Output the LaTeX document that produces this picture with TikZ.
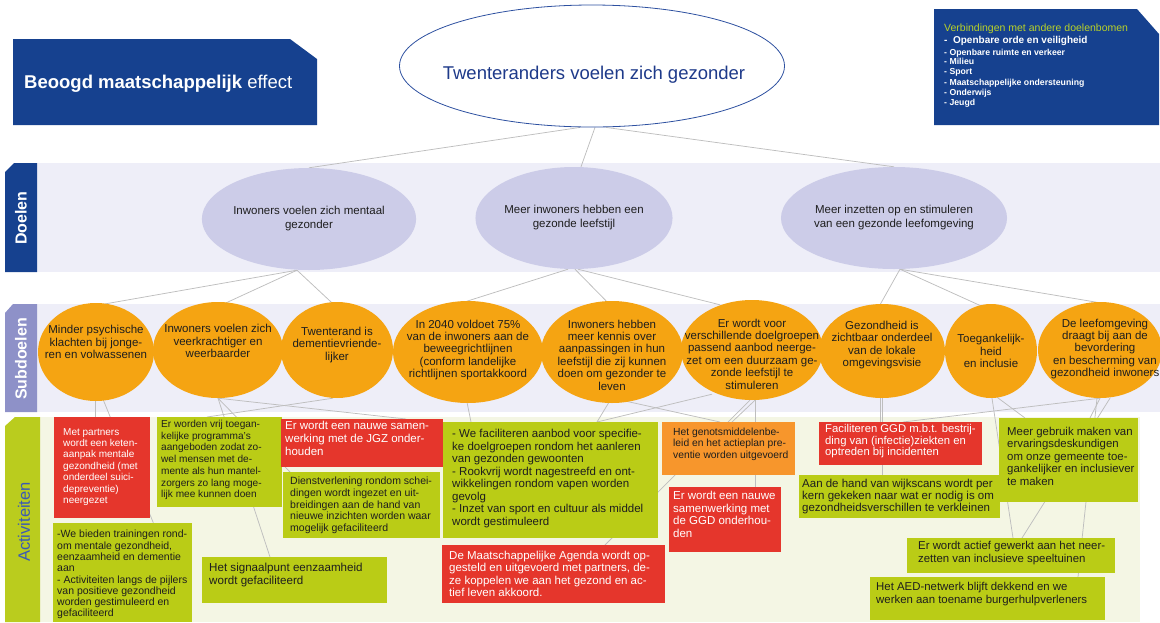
\documentclass[tikz,border=0pt]{standalone}
\usepackage{fontspec}
\setmainfont{Liberation Sans}
\usetikzlibrary{shapes.geometric,calc}
\pgfdeclarelayer{back}
\pgfdeclarelayer{lines}
\pgfsetlayers{back,lines,main}
\definecolor{dblue}{RGB}{22,65,143}
\definecolor{bandlav}{RGB}{238,238,248}
\definecolor{goalfill}{RGB}{204,204,232}
\definecolor{subtab}{RGB}{142,145,200}
\definecolor{suborange}{RGB}{245,164,18}
\definecolor{acttab}{RGB}{186,204,30}
\definecolor{actband}{RGB}{244,246,228}
\definecolor{actgreen}{RGB}{186,204,22}
\definecolor{actred}{RGB}{229,54,44}
\definecolor{actorange}{RGB}{247,150,44}
\definecolor{actblue}{RGB}{58,90,180}
\definecolor{linegray}{RGB}{190,190,190}
\definecolor{titleblue}{RGB}{30,58,138}
\definecolor{ellblue}{RGB}{45,80,160}
\definecolor{vgreen}{RGB}{185,210,40}
\definecolor{txtdark}{RGB}{30,30,30}
\newcommand{\fs}[2]{\fontsize{#1}{#2}\selectfont}
\begin{document}
\begin{tikzpicture}[x=1pt,y=-1pt,
  conn/.style={draw=linegray,line width=0.75pt},
  goalel/.style={ellipse,fill=goalfill,draw=none,inner sep=0pt,align=center,text=txtdark,font=\fs{11.5}{14}},
  subel/.style={ellipse,fill=suborange,draw=none,inner sep=0pt},
  subtx/.style={inner sep=0pt,align=center,text=txtdark,font=\fs{11.5}{12.4}},
  abox/.style={rectangle,draw=none,inner sep=0pt,anchor=north west},
  atx/.style={inner sep=0pt,anchor=north west,align=left},
  tabtx/.style={rotate=90,inner sep=0pt},
  vitem/.style={anchor=base west,inner sep=0pt,text=white,font=\fs{8.7}{10}\bfseries}
]
\useasboundingbox (0,0) rectangle (1160,622);

\begin{pgfonlayer}{back}
% bands and tabs
\fill[bandlav] (37,163) rectangle (1160,272);
\fill[dblue] (5,172) -- (14,163) -- (37,163) -- (37,272) -- (5,272) -- cycle;
\fill[bandlav] (37,304) rectangle (1160,412);
\fill[subtab] (5,313) -- (13,304) -- (37,304) -- (37,412) -- (5,412) -- cycle;
\fill[actband] (40,417) rectangle (1140,622);
\fill[acttab] (5,426) -- (15,417) -- (40,417) -- (40,622) -- (5,622) -- cycle;
% top boxes
\fill[dblue] (13,39) -- (290,39) -- (317,59) -- (317,125) -- (13,125) -- cycle;
\fill[dblue] (934,9) -- (1137,9) -- (1159,34) -- (1159,125) -- (934,125) -- cycle;
\end{pgfonlayer}

% band labels
\node[tabtx,text=white,font=\fs{16}{18}\bfseries] (tdo) at (21,218) {Doelen};
\node[tabtx,text=white,font=\fs{16}{18}\bfseries] (tsu) at (21,359) {Subdoelen};
\node[tabtx,text=actblue,font=\fs{16.5}{18}] (tac) at (24,522) {Activiteiten};

% top texts
\node[anchor=base west,inner sep=0pt,text=white,font=\fs{18.5}{22}] (beo) at (24,88) {\bfseries Beoogd maatschappelijk \mdseries effect};
\node[anchor=base west,inner sep=0pt,text=vgreen,font=\fs{10.5}{12}] (vt) at (944,31) {Verbindingen met andere doelenbomen};
\node[vitem,font=\fs{10}{12}\bfseries] (v1) at (944,43.5) {-\ \ Openbare orde en veiligheid};
\node[vitem] (v2) at (944,55) {-\ Openbare ruimte en verkeer};
\node[vitem] (v3) at (944,64.5) {-\ Milieu};
\node[vitem] (v4) at (944,74) {-\ Sport};
\node[vitem] (v5) at (944,85) {-\ Maatschappelijke ondersteuning};
\node[vitem] (v6) at (944,95.5) {-\ Onderwijs};
\node[vitem] (v7) at (944,105) {-\ Jeugd};

% main ellipse
\node[ellipse,draw=ellblue,line width=0.8pt,fill=white,minimum width=385pt,minimum height=122pt,inner sep=0pt] (m) at (592,66) {};
\node[anchor=base,inner sep=0pt,text=titleblue,font=\fs{18.5}{22}] (mt) at (594,79) {Twenteranders voelen zich gezonder};

% goals
\node[goalel,minimum width=178pt,minimum height=102pt] (d1) at (309,219) {Inwoners voelen zich mentaal\\gezonder};
\node[goalel,minimum width=178pt,minimum height=102pt] (d2) at (574,218) {Meer inwoners hebben een\\gezonde leefstijl};
\node[goalel,minimum width=178pt,minimum height=102pt] (d3) at (894,218) {Meer inzetten op en stimuleren\\van een gezonde leefomgeving};

% sub goals
\node[subel,minimum width=116pt,minimum height=98pt] (s1) at (96,352) {};
\node[subel,minimum width=130pt,minimum height=96pt] (s2) at (218,350) {};
\node[subel,minimum width=112pt,minimum height=96pt] (s3) at (337,350) {};
\node[subel,minimum width=150pt,minimum height=102pt] (s4) at (468,352) {};
\node[subel,minimum width=142pt,minimum height=102pt] (s5) at (612,352) {};
\node[subel,minimum width=142pt,minimum height=100pt] (s6) at (752,350) {};
\node[subel,minimum width=126pt,minimum height=94pt] (s7) at (882,351) {};
\node[subel,minimum width=92pt,minimum height=94pt] (s8) at (991,351) {};
\node[subel,minimum width=124pt,minimum height=96pt] (s9) at (1100,350) {};

\node[subtx] (st1) at (96,342) {Minder psychische\\klachten bij jonge-\\ren en volwassenen};
\node[subtx] (st2) at (218,341) {Inwoners voelen zich\\veerkrachtiger en\\weerbaarder};
\node[subtx] (st3) at (337,345) {Twenterand is\\dementievriende-\\lijker};
\node[subtx] (st4) at (468,350) {In 2040 voldoet 75\%\\van de inwoners aan de\\beweegrichtlijnen\\(conform landelijke\\richtlijnen sportakkoord};
\node[subtx] (st5) at (612,355) {Inwoners hebben\\meer kennis over\\aanpassingen in hun\\leefstijl die zij kunnen\\doen om gezonder te\\leven};
\node[subtx] (st6) at (752,354) {Er wordt voor\\verschillende doelgroepen\\passend aanbod neerge-\\zet om een duurzaam ge-\\zonde leefstijl te\\stimuleren};
\node[subtx] (st7) at (882,345) {Gezondheid is\\zichtbaar onderdeel\\van de lokale\\omgevingsvisie};
\node[subtx] (st8) at (991,351) {Toegankelijk-\\heid\\en inclusie};
\node[subtx] (st9) at (1105,349) {De leefomgeving\\draagt bij aan de\\bevordering\\en bescherming van\\gezondheid inwoners};

% activity boxes
\node[abox,fill=actred,minimum width=96pt,minimum height=101pt] (a1) at (54,417) {};
\node[abox,fill=actgreen,minimum width=125pt,minimum height=90pt] (a2) at (157,417) {};
\node[abox,fill=actred,minimum width=162pt,minimum height=48pt] (a3) at (281,419) {};
\node[abox,fill=actgreen,minimum width=157pt,minimum height=66pt] (a4) at (283,472) {};
\node[abox,fill=actgreen,minimum width=139pt,minimum height=99pt] (a5) at (53,523) {};
\node[abox,fill=actgreen,minimum width=185pt,minimum height=46pt] (a6) at (202,557) {};
\node[abox,fill=actgreen,minimum width=215pt,minimum height=116pt] (a7) at (443,422) {};
\node[abox,fill=actred,minimum width=223pt,minimum height=58pt] (a8) at (442,545) {};
\node[abox,fill=actorange,minimum width=133pt,minimum height=53pt] (a9) at (662,422) {};
\node[abox,fill=actred,minimum width=112pt,minimum height=65pt] (a10) at (669,487) {};
\node[abox,fill=actred,minimum width=163pt,minimum height=43pt] (a11) at (819,422) {};
\node[abox,fill=actgreen,minimum width=201pt,minimum height=43pt] (a12) at (799,475) {};
\node[abox,fill=actgreen,minimum width=139pt,minimum height=84pt] (a13) at (999,418) {};
\node[abox,fill=actgreen,minimum width=208pt,minimum height=35pt] (a14) at (907,538) {};
\node[abox,fill=actgreen,minimum width=235pt,minimum height=43pt] (a15) at (870,577) {};

% activity texts
\node[atx,text=white,font=\fs{10}{11.4}] (at1) at (63,428) {Met partners\\wordt een keten-\\aanpak mentale\\gezondheid (met\\onderdeel suici-\\depreventie)\\neergezet};
\node[atx,text=txtdark,font=\fs{10.1}{11.7}] (at2) at (161,420) {Er worden vrij toegan-\\kelijke programma's\\aangeboden zodat zo-\\wel mensen met de-\\mente als hun mantel-\\zorgers zo lang moge-\\lijk mee kunnen doen};
\node[atx,text=white,font=\fs{11.5}{13}] (at3) at (285,421) {Er wordt een nauwe samen-\\werking met de JGZ onder-\\houden};
\node[atx,text=txtdark,font=\fs{10.5}{11.7}] (at4) at (290,477) {Dienstverlening rondom schei-\\dingen wordt ingezet en uit-\\breidingen aan de hand van\\nieuwe inzichten worden waar\\mogelijk gefaciliteerd};
\node[atx,text=txtdark,font=\fs{10.5}{11.3}] (at5) at (57,530) {-We bieden trainingen rond-\\om mentale gezondheid,\\eenzaamheid en dementie\\aan\\- Activiteiten langs de pijlers\\van positieve gezondheid\\worden gestimuleerd en\\gefaciliteerd};
\node[atx,text=txtdark,font=\fs{11.6}{12.5}] (at6) at (209,563) {Het signaalpunt eenzaamheid\\wordt gefaciliteerd};
\node[atx,text=txtdark,font=\fs{11.5}{12.5}] (at7) at (452,429) {- We faciliteren aanbod voor specifie-\\ke doelgroepen rondom het aanleren\\van gezonden gewoonten\\- Rookvrij wordt nagestreefd en ont-\\wikkelingen rondom vapen worden\\gevolg\\- Inzet van sport en cultuur als middel\\wordt gestimuleerd};
\node[atx,text=white,font=\fs{11.5}{12.3}] (at8) at (449,551) {De Maatschappelijke Agenda wordt op-\\gesteld en uitgevoerd met partners, de-\\ze koppelen we aan het gezond en ac-\\tief leven akkoord.};
\node[atx,text=txtdark,font=\fs{10.3}{11.3}] (at9) at (673,428) {Het genotsmiddelenbe-\\leid en het actieplan pre-\\ventie worden uitgevoerd};
\node[atx,text=white,font=\fs{11.5}{12.6}] (at10) at (673,491) {Er wordt een nauwe\\samenwerking met\\de GGD onderhou-\\den};
\node[atx,text=white,font=\fs{11.3}{11.7}] (at11) at (825,424) {Faciliteren GGD m.b.t. bestrij-\\ding van (infectie)ziekten en\\optreden bij incidenten};
\node[atx,text=txtdark,font=\fs{11.5}{12}] (at12) at (802,479) {Aan de hand van wijkscans wordt per\\kern gekeken naar wat er nodig is om\\gezondheidsverschillen te verkleinen};
\node[atx,text=txtdark,font=\fs{11.4}{12.5}] (at13) at (1007,427) {Meer gebruik maken van\\ervaringsdeskundigen\\om onze gemeente toe-\\gankelijker en inclusiever\\te maken};
\node[atx,text=txtdark,font=\fs{11.4}{12.8}] (at14) at (918,541) {Er wordt actief gewerkt aan het neer-\\zetten van inclusieve speeltuinen};
\node[atx,text=txtdark,font=\fs{11.4}{13}] (at15) at (876,582) {Het AED-netwerk blijft dekkend en we\\werken aan toename burgerhulpverleners};

% connectors
\begin{pgfonlayer}{lines}
\draw[conn] ($(m.south)+(-12,0)$) -- (d1.north);
\draw[conn] ($(m.south)+(3,0)$) -- ($(d2.north)+(7,0)$);
\draw[conn] ($(m.south)+(14,0)$) -- (d3.north);

\draw[conn] ($(d1.south)+(-12,0)$) -- ($(s1.north)+(4,2)$);
\draw[conn] ($(d1.south)+(-12,0)$) -- ($(s2.north)+(6,2)$);
\draw[conn] ($(d1.south)+(-12,0)$) -- ($(s3.north)+(-4,2)$);
\draw[conn] ($(d2.south)+(-6,0)$) -- ($(s4.north)+(-3,1)$);
\draw[conn] ($(d2.south)+(1,0)$) -- ($(s5.north)+(-5,1)$);
\draw[conn] ($(d2.south)+(4,0)$) -- ($(s6.north)+(-32,5)$);
\draw[conn] ($(d3.south)+(6,0)$) -- ($(s7.north)+(-2,1)$);
\draw[conn] ($(d3.south)+(6,0)$) -- ($(s8.north)+(-8,3)$);
\draw[conn] ($(d3.south)+(6,0)$) -- ($(s9.north)+(0,1)$);

\draw[conn] ($(s1.south)+(-1,-2)$) -- ($(a1.north west)+(41,0)$);
\draw[conn] ($(s1.south)+(7,-2)$) -- ($(a5.north east)+(-39,0)$);
\draw[conn] (s2.south) -- ($(a6.north west)+(68,0)$);
\draw[conn] (s2.south) -- ($(a4.north west)+(7,0)$);
\draw[conn] (s2.south) -- ($(a3.north west)+(125,0)$);
\draw[conn] ($(s3.south)+(-4,0)$) -- ($(a2.north west)+(50,0)$);
\draw[conn] ($(s4.south)+(-1,-1)$) -- ($(a7.north west)+(28,0)$);
\draw[conn] ($(s5.south)+(-3,-1)$) -- ($(a7.north west)+(154,0)$);
\draw[conn] ($(s5.south)+(14,-2)$) -- ($(a9.north west)+(58,0)$);
\draw[conn] ($(s6.south)+(-40,-6)$) -- ($(a7.north west)+(154,0)$);
\draw[conn] ($(s6.south)+(3,0)$) -- ($(a9.north west)+(70,0)$);
\draw[conn] ($(s6.south)+(3,0)$) -- ($(a10.north west)+(86,0)$);
\draw[conn] ($(s6.south)+(-2,0)$) -- ($(a8.north west)+(163,0)$);
\draw[conn] ($(s7.south)+(-2,0)$) -- ($(a11.north west)+(61,0)$);
\draw[conn] (s7.south) -- ($(a12.north west)+(83,0)$);
\draw[conn] ($(s8.south)+(6,-1)$) -- ($(a13.north west)+(26,0)$);
\draw[conn] ($(s8.south)+(1,0)$) -- ($(a14.north west)+(106,0)$);
\draw[conn] (s9.south) -- ($(a11.north west)+(84,0)$);
\draw[conn] (s9.south) -- ($(a13.north west)+(91,0)$);
\draw[conn] ($(s9.south)+(10,0)$) -- ($(a14.north west)+(115,0)$);
\draw[conn] ($(s9.south)+(-3,0)$) -- ($(a15.north west)+(208,0)$);
\end{pgfonlayer}
\end{tikzpicture}
\end{document}
